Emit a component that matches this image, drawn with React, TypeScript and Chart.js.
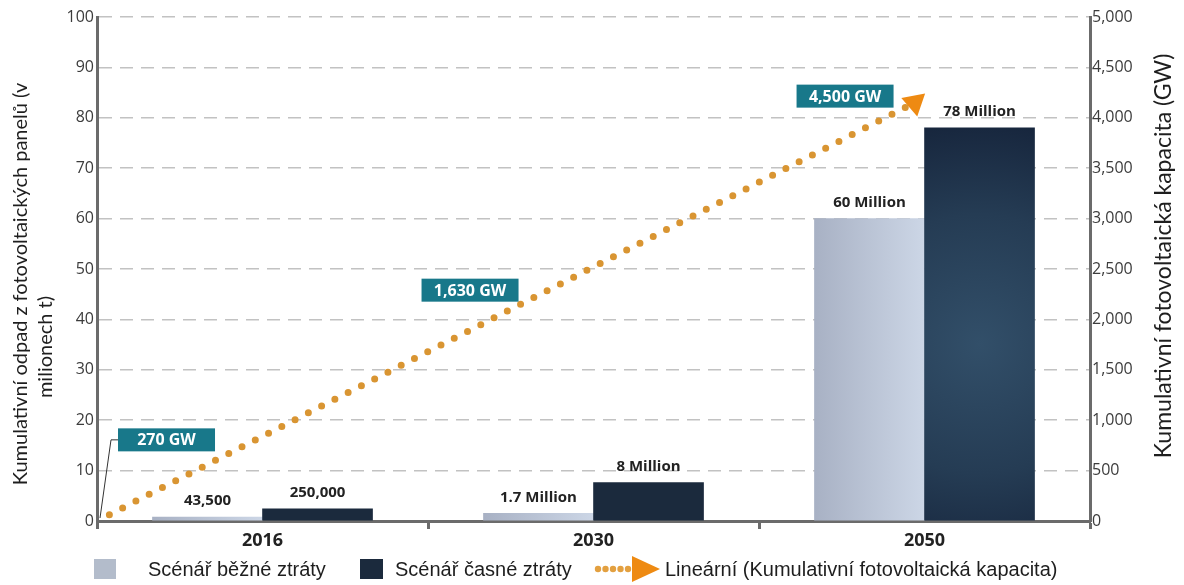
import React, { useEffect, useRef } from 'react';
import { Chart, registerables } from 'chart.js';

Chart.register(...registerables);

// ---- data ----
const categories = ['2016', '2030', '2050'];
const commonLossValues = [0.8, 1.5, 60];
const earlyLossValues = [2.4, 7.6, 78];
const commonLossLabels = ['43,500', '1.7 Million', '60 Million'];
const earlyLossLabels = ['250,000', '8 Million', '78 Million'];
const capacityX = [-0.5, 1.97];
const capacityGW = [0, 4150];
const capacityCallouts = ['270 GW', '1,630 GW', '4,500 GW'];
const seriesNames = [
  'Scénář běžné ztráty',
  'Scénář časné ztráty',
  'Lineární (Kumulativní fotovoltaická kapacita)',
];
const leftTitle = ['Kumulativní odpad z fotovoltaických panelů (v', 'milionech t)'];
const rightTitle = 'Kumulativní fotovoltaická kapacita (GW)';

// ---- styling / layout constants ----
const AXIS = '#6b6b6b';
const TEAL = '#18788a';
const DOT = '#d99532';
const ARROW = '#ee8a12';
const GROUP_PCT = 0.665; // share of a category taken by the bar pair
const HALF_SHIFT = GROUP_PCT / 4; // bar centre offset from category centre (in category units)
const BAR_W = 110;
const calloutPos = [
  { x: -0.29, y: 16.1 },
  { x: 0.627, y: 45.8 },
  { x: 1.76, y: 84.3 },
];

function barFill(kind: 'light' | 'dark') {
  return (ctx: any) => {
    const chart = ctx.chart;
    const xs = chart.scales?.xl;
    const ys = chart.scales?.y;
    if (!xs || !ys || ctx.type !== 'data' || !xs.width) return kind === 'light' ? '#b4bdcc' : '#1b2a3d';
    const cx = xs.getPixelForValue(ctx.raw.x);
    const x0 = cx - BAR_W / 2;
    const x1 = cx + BAR_W / 2;
    const yTop = ys.getPixelForValue(ctx.raw.y);
    const yBot = ys.getPixelForValue(0);
    const c = chart.ctx as CanvasRenderingContext2D;
    if (kind === 'light') {
      const g = c.createLinearGradient(x0, 0, x1, 0);
      g.addColorStop(0, '#a8b1c4');
      g.addColorStop(1, '#ccd6e6');
      return g;
    }
    const h = yBot - yTop;
    if (h < 60) return '#1b2a3d';
    const gx = (x0 + x1) / 2;
    const gy = yTop + h * 0.55;
    const g = c.createRadialGradient(gx, gy, 0, gx, gy, h * 0.6);
    g.addColorStop(0, '#324f69');
    g.addColorStop(0.55, '#253c54');
    g.addColorStop(1, '#15233a');
    return g;
  };
}

const overlayPlugin = {
  id: 'overlay',
  afterDatasetsDraw(chart: any) {
    const ctx = chart.ctx as CanvasRenderingContext2D;
    // bar value labels
    ctx.save();
    ctx.font = 'bold 15px "Open Sans"';
    ctx.fillStyle = '#222';
    ctx.textAlign = 'center';
    ctx.textBaseline = 'middle';
    [commonLossLabels, earlyLossLabels].forEach((labels, di) => {
      const meta = chart.getDatasetMeta(di);
      meta.data.forEach((el: any, i: number) => {
        ctx.fillText(labels[i], el.x, el.y - 16);
      });
    });
    ctx.restore();

    // callouts
    const xl = chart.scales.xl;
    const y = chart.scales.y;
    const area = chart.chartArea;
    ctx.save();
    capacityCallouts.forEach((txt, i) => {
      const cx = xl.getPixelForValue(calloutPos[i].x);
      const cy = y.getPixelForValue(calloutPos[i].y);
      const w = 97;
      const h = 23;
      ctx.fillStyle = TEAL;
      ctx.fillRect(cx - w / 2, cy - h / 2, w, h);
      ctx.fillStyle = '#ffffff';
      ctx.font = 'bold 16px "Open Sans"';
      ctx.textAlign = 'center';
      ctx.textBaseline = 'middle';
      ctx.fillText(txt, cx, cy + 1);
      if (i === 0) {
        ctx.strokeStyle = '#333';
        ctx.lineWidth = 1;
        ctx.beginPath();
        ctx.moveTo(cx - w / 2, cy);
        ctx.lineTo(cx - w / 2 - 7, cy);
        ctx.lineTo(area.left + 3, area.bottom - 3);
        ctx.stroke();
      }
    });
    ctx.restore();
  },
  afterDraw(chart: any) {
    const ctx = chart.ctx as CanvasRenderingContext2D;
    ctx.save();
    // left title
    ctx.fillStyle = '#1e1e1e';
    ctx.textAlign = 'center';
    ctx.textBaseline = 'middle';
    ctx.font = '20px Lato';
    ctx.save();
    ctx.translate(21, 284);
    ctx.rotate(-Math.PI / 2);
    ctx.fillText(leftTitle[0], 0, 0);
    ctx.restore();
    ctx.save();
    ctx.translate(46, 347);
    ctx.rotate(-Math.PI / 2);
    ctx.fillText(leftTitle[1], 0, 0);
    ctx.restore();
    // right title
    ctx.font = '23px Lato';
    ctx.save();
    ctx.translate(1164, 256);
    ctx.rotate(-Math.PI / 2);
    ctx.fillText(rightTitle, 0, 0);
    ctx.restore();

    // legend
    const ly = 569;
    ctx.fillStyle = '#b3bccb';
    ctx.fillRect(94, ly - 10, 22, 20);
    ctx.fillStyle = '#1b2a3d';
    ctx.fillRect(360, ly - 10, 23, 20);
    ctx.fillStyle = '#e3a040';
    for (let k = 0; k < 5; k++) {
      ctx.beginPath();
      ctx.arc(598 + k * 7.5, ly, 3.2, 0, Math.PI * 2);
      ctx.fill();
    }
    ctx.fillStyle = ARROW;
    ctx.beginPath();
    ctx.moveTo(632, ly - 13);
    ctx.lineTo(660, ly);
    ctx.lineTo(632, ly + 13);
    ctx.closePath();
    ctx.fill();
    ctx.fillStyle = '#1e1e1e';
    ctx.font = '20px "Liberation Sans"';
    ctx.textAlign = 'left';
    ctx.fillText(seriesNames[0], 148, ly + 1);
    ctx.fillText(seriesNames[1], 395, ly + 1);
    ctx.fillText(seriesNames[2], 665, ly + 1);
    ctx.restore();
  },
};

export default function App() {
  const ref = useRef<HTMLCanvasElement>(null);
  useEffect(() => {
    document.body.style.margin = '0';
    const barCommon = {
      grouped: false,
      barThickness: BAR_W,
      borderWidth: 0,
      xAxisID: 'xl',
      yAxisID: 'y',
    };
    const chart = new Chart(ref.current as HTMLCanvasElement, {
      type: 'bar',
      data: {
        labels: categories,
        datasets: [
          {
            type: 'bar',
            label: seriesNames[0],
            data: commonLossValues.map((v, i) => ({ x: i - HALF_SHIFT, y: v })),
            backgroundColor: barFill('light'),
            ...barCommon,
            order: 2,
          } as any,
          {
            type: 'bar',
            label: seriesNames[1],
            data: earlyLossValues.map((v, i) => ({ x: i + HALF_SHIFT, y: v })),
            backgroundColor: barFill('dark'),
            ...barCommon,
            order: 1,
          } as any,
          {
            type: 'line',
            label: seriesNames[2],
            data: capacityX.map((x, i) => ({ x, y: capacityGW[i] })),
            xAxisID: 'xl',
            yAxisID: 'y2',
            borderColor: DOT,
            borderWidth: 7,
            borderDash: [0, 14.9],
            borderDashOffset: 1,
            borderCapStyle: 'round',
            fill: false,
            tension: 0,
            pointRadius: [0, 14],
            pointStyle: 'triangle',
            pointRotation: [0, 169],
            pointBackgroundColor: ARROW,
            pointBorderWidth: 0,
            order: 0,
          } as any,
        ],
      },
      options: {
        responsive: false,
        animation: false,
        events: [],
        layout: { padding: { top: 17, left: 0, right: 0, bottom: 0 } },
        plugins: {
          legend: { display: false },
          tooltip: { enabled: false },
          title: { display: false },
        },
        scales: {
          x: {
            type: 'category',
            labels: categories,
            offset: true,
            afterFit: (s: any) => { s.height = 64; },
            grid: {
              offset: true,
              drawOnChartArea: false,
              drawTicks: true,
              tickLength: 8,
              tickWidth: 3,
              tickColor: AXIS,
            },
            border: { display: true, color: AXIS, width: 3 },
            ticks: {
              padding: 1,
              color: '#222',
              font: { family: '"Open Sans"', size: 18, weight: 'bold' },
            },
          },
          xl: {
            type: 'linear',
            display: false,
            offset: false,
            grid: { offset: false },
            min: -0.5,
            max: 2.5,
          },
          y: {
            position: 'left',
            min: 0,
            max: 100,
            afterFit: (s: any) => { s.width = 97; },
            ticks: {
              stepSize: 10,
              padding: 3,
              color: '#3c3c3c',
              font: { family: '"Open Sans"', size: 16 },
            },
            grid: { color: '#c2c2c2', lineWidth: 1.5, drawTicks: false },
            border: { display: true, color: AXIS, width: 3, dash: [13, 8] },
          },
          y2: {
            position: 'right',
            min: 0,
            max: 5000,
            afterFit: (s: any) => { s.width = 94; },
            ticks: {
              stepSize: 500,
              padding: 2,
              color: '#3c3c3c',
              font: { family: '"Open Sans"', size: 16 },
              callback: (v: any) => Number(v).toLocaleString('en-US'),
            },
            grid: { display: false, drawTicks: false },
            border: { display: true, color: AXIS, width: 3 },
          },
        },
      } as any,
      plugins: [overlayPlugin],
    });
    return () => chart.destroy();
  }, []);
  return (
    <div style={{ width: 1184, height: 585 }}>
      <canvas ref={ref} width={1184} height={585} style={{ display: 'block', width: 1184, height: 585 }} />
    </div>
  );
}
